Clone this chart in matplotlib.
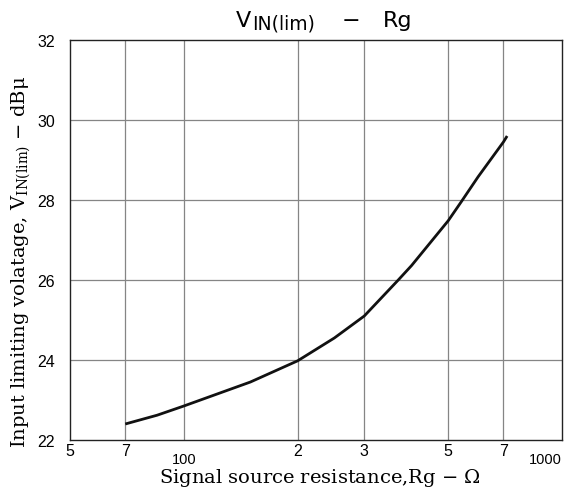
import matplotlib
matplotlib.use("Agg")
import matplotlib.pyplot as plt
import matplotlib.transforms as mtransforms
from matplotlib.ticker import NullLocator

# Data
rg_ohm = [70, 85, 100, 150, 200, 250, 300, 369, 400, 500, 541, 600, 700, 716]
vin_dbu = [22.4, 22.62, 22.85, 23.45, 23.98, 24.55, 25.1, 26.0, 26.36, 27.48, 27.95, 28.58, 29.45, 29.6]

major_ticks = [50, 70, 200, 300, 500, 700]
major_labels = ["5", "7", "2", "3", "5", "7"]
decade_ticks = [100, 1000]
decade_labels = ["100", "1000"]
y_ticks = [22, 24, 26, 28, 30, 32]
y_labels = ["22", "24", "26", "28", "30", "32"]
grid_x = [70, 100, 200, 300, 500, 700]
grid_y = [24, 26, 28, 30]

plt.rcParams["mathtext.default"] = "regular"

fig = plt.figure(figsize=(5.74, 4.89), dpi=100)
ax = fig.add_axes([70/574, 48/489, 492/574, 400/489])

ax.set_xscale("log")
ax.set_xlim(50, 1000)
ax.set_ylim(22, 32)

for gx in grid_x:
    ax.axvline(gx, color="#858585", lw=0.9, zorder=1)
for gy in grid_y:
    ax.axhline(gy, color="#858585", lw=0.9, zorder=1)

ax.plot(rg_ohm, vin_dbu, color="#111111", lw=2.0, zorder=3,
        solid_capstyle="butt", solid_joinstyle="round")

sans = "Liberation Sans"
ax.xaxis.set_major_locator(NullLocator())
ax.xaxis.set_minor_locator(NullLocator())
ax.set_xticks(major_ticks)
ax.set_xticklabels(major_labels, fontfamily=sans, fontsize=11.5)
ax.tick_params(axis="x", which="both", length=0, pad=2)

# decade labels sit lower and smaller
base = ax.get_xaxis_transform()
for xv, lab in zip(decade_ticks, decade_labels):
    ha = "right" if xv == decade_ticks[-1] else "center"
    tr = mtransforms.offset_copy(base, fig=fig, x=0, y=-8.5, units="points")
    ax.text(xv, 0, lab, transform=tr, ha=ha, va="top", fontfamily=sans, fontsize=10.5)

ax.set_yticks(y_ticks)
ax.set_yticklabels(y_labels, fontfamily=sans, fontsize=11.5)
ax.tick_params(axis="y", length=0, pad=11)

for s in ax.spines.values():
    s.set_linewidth(1.0)
    s.set_color("#222222")

# Title assembled from pieces: V, subscript IN(lim), dash, Rg
tsans = "DejaVu Sans"
fig.text(236/574, (489-27)/489, "V", ha="left", va="baseline", fontfamily=tsans, fontsize=16)
fig.text(252/574, (489-29.5)/489, "IN(lim)", ha="left", va="baseline", fontfamily=tsans, fontsize=13.5)
fig.text(351/574, (489-27)/489, "\u2212", ha="center", va="baseline", fontfamily=tsans, fontsize=16)
fig.text(383/574, (489-27)/489, "Rg", ha="left", va="baseline", fontfamily=tsans, fontsize=16)

fig.text(21/574, (489-262)/489,
         r"Input limiting volatage, $V_{IN(lim)}$ $-$ dB$\mu$",
         rotation=90, ha="center", va="center", fontfamily="DejaVu Serif", fontsize=14)
fig.text(320/574, (489-478)/489, r"Signal source resistance,Rg $-$ $\Omega$",
         ha="center", va="center", fontfamily="DejaVu Serif", fontsize=14)

fig.savefig("out.png", dpi=100)
